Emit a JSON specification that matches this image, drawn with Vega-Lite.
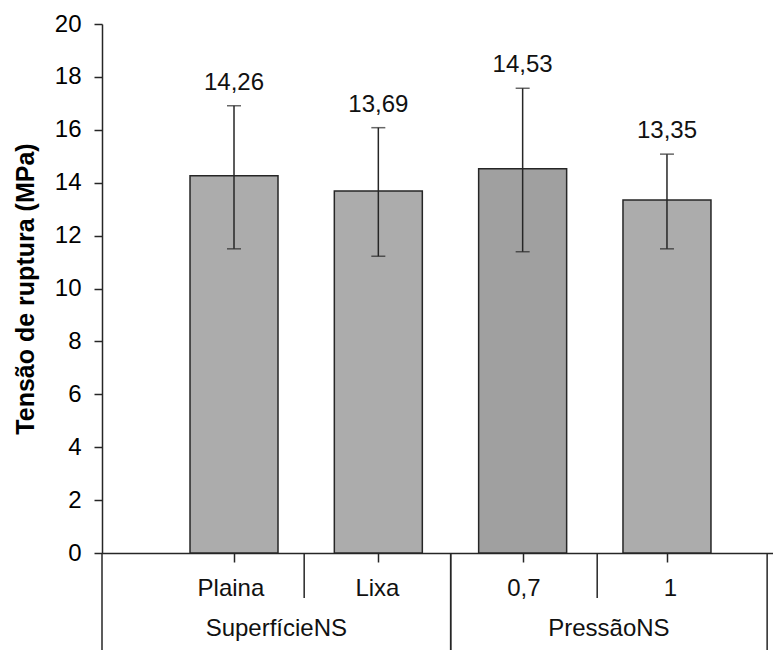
{
  "$schema": "https://vega.github.io/schema/vega-lite/v6.json",
  "padding": {"left": 13, "top": 12, "right": 0, "bottom": 0},
  "spacing": 0,
  "bounds": "flush",
  "config": {
    "view": {"stroke": null},
    "font": "Liberation Sans",
    "concat": {"spacing": 0}
  },
  "datasets": {
    "bars": [
      {"cat": "Plaina", "pos": 1, "mean": 14.26, "lo": 11.5, "hi": 16.91, "label": "14,26", "group": "SuperfícieNS"},
      {"cat": "Lixa", "pos": 2, "mean": 13.69, "lo": 11.22, "hi": 16.08, "label": "13,69", "group": "SuperfícieNS"},
      {"cat": "0,7", "pos": 3, "mean": 14.53, "lo": 11.39, "hi": 17.57, "label": "14,53", "group": "PressãoNS"},
      {"cat": "1", "pos": 4, "mean": 13.35, "lo": 11.5, "hi": 15.08, "label": "13,35", "group": "PressãoNS"}
    ],
    "groups": [
      {"group": "SuperfícieNS", "start": 0.12, "end": 2.5},
      {"group": "PressãoNS", "start": 2.5, "end": 4.66}
    ],
    "inner": [
      {"boundary": 1.5},
      {"boundary": 3.5}
    ]
  },
  "vconcat": [
    {
      "width": 671,
      "height": 529,
      "data": {"name": "bars"},
      "encoding": {
        "x": {
          "field": "pos",
          "type": "quantitative",
          "scale": {"domain": [0.12, 4.7], "nice": false, "zero": false},
          "axis": {
            "values": [1, 2, 3, 4],
            "labels": false,
            "title": null,
            "grid": false,
            "tickSize": 9,
            "tickWidth": 1.5,
            "tickColor": "#262626",
            "domainColor": "#262626",
            "domainWidth": 1.5
          }
        }
      },
      "layer": [
        {
          "mark": {"type": "bar", "width": 88, "stroke": "#262626", "strokeWidth": 1.5},
          "encoding": {
            "y": {
              "field": "mean",
              "type": "quantitative",
              "scale": {"domain": [0, 20], "nice": false},
              "axis": {
                "values": [0, 2, 4, 6, 8, 10, 12, 14, 16, 18, 20],
                "title": "Tensão de ruptura (MPa)",
                "titleFontSize": 25,
                "titleFontWeight": "bold",
                "titleColor": "#000000",
                "titlePadding": 16,
                "labelFontSize": 24,
                "labelColor": "#000000",
                "labelPadding": 13,
                "tickSize": 8,
                "tickWidth": 1.5,
                "tickColor": "#262626",
                "domainColor": "#262626",
                "domainWidth": 1.5,
                "grid": false
              }
            },
            "color": {
              "field": "cat",
              "type": "nominal",
              "scale": {"domain": ["Plaina", "Lixa", "0,7", "1"], "range": ["#acacac", "#acacac", "#a0a0a0", "#acacac"]},
              "legend": null
            }
          }
        },
        {
          "mark": {"type": "rule", "color": "#262626", "strokeWidth": 1.5},
          "encoding": {
            "y": {"field": "lo", "type": "quantitative"},
            "y2": {"field": "hi"}
          }
        },
        {
          "mark": {"type": "tick", "orient": "horizontal", "size": 14, "thickness": 1.5, "color": "#262626"},
          "encoding": {"y": {"field": "lo", "type": "quantitative"}}
        },
        {
          "mark": {"type": "tick", "orient": "horizontal", "size": 14, "thickness": 1.5, "color": "#262626"},
          "encoding": {"y": {"field": "hi", "type": "quantitative"}}
        },
        {
          "mark": {"type": "text", "fontSize": 24, "dy": -23, "baseline": "middle", "color": "#111111"},
          "encoding": {
            "y": {"field": "hi", "type": "quantitative"},
            "text": {"field": "label"}
          }
        }
      ]
    },
    {
      "width": 671,
      "height": 97,
      "layer": [
        {
          "data": {"name": "groups"},
          "mark": {"type": "rule", "color": "#262626", "strokeWidth": 1.5},
          "encoding": {
            "x": {"field": "start", "type": "quantitative", "scale": {"domain": [0.12, 4.7], "nice": false, "zero": false}, "axis": null}
          }
        },
        {
          "data": {"name": "groups"},
          "mark": {"type": "rule", "color": "#262626", "strokeWidth": 1.5},
          "encoding": {
            "x": {"field": "end", "type": "quantitative"}
          }
        },
        {
          "data": {"name": "inner"},
          "mark": {"type": "rule", "color": "#262626", "strokeWidth": 1.5},
          "encoding": {
            "x": {"field": "boundary", "type": "quantitative"},
            "y": {"datum": 0, "type": "quantitative", "scale": {"domain": [0, 2], "reverse": true, "nice": false}, "axis": null},
            "y2": {"datum": 0.93}
          }
        },
        {
          "data": {"name": "bars"},
          "mark": {"type": "text", "fontSize": 24, "baseline": "middle", "dy": 12, "color": "#111111"},
          "encoding": {
            "x": {"field": "pos", "type": "quantitative"},
            "y": {"datum": 0.5, "type": "quantitative"},
            "text": {"field": "cat"}
          }
        },
        {
          "data": {"name": "groups"},
          "transform": [{"calculate": "(datum.start + datum.end) / 2", "as": "mid"}],
          "mark": {"type": "text", "fontSize": 24, "baseline": "middle", "dy": 3, "color": "#111111"},
          "encoding": {
            "x": {"field": "mid", "type": "quantitative"},
            "y": {"datum": 1.5, "type": "quantitative"},
            "text": {"field": "group"}
          }
        }
      ]
    }
  ]
}
